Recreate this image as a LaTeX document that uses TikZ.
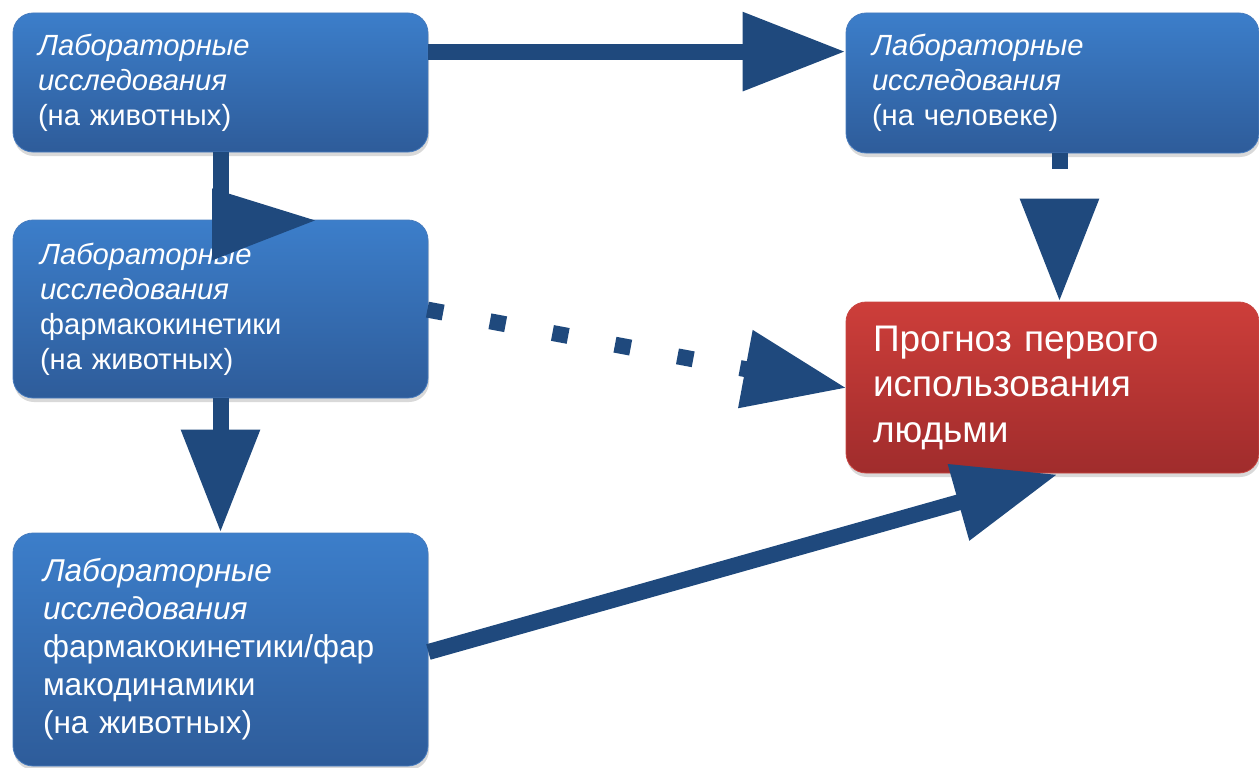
\documentclass[tikz,border=0pt]{standalone}
\usepackage{fontspec}
\setmainfont{Liberation Sans}
\usetikzlibrary{arrows.meta,shadows,calc}
\definecolor{arrowblue}{RGB}{31,73,125}
\definecolor{boxtop}{RGB}{60,126,202}
\definecolor{boxbot}{RGB}{46,92,154}
\definecolor{boxedge}{RGB}{72,124,190}
\definecolor{redtop}{RGB}{205,62,58}
\definecolor{redbot}{RGB}{160,44,44}
\definecolor{rededge}{RGB}{200,70,66}
\begin{document}
\begin{tikzpicture}[x=1pt,y=-1pt,
  box/.style={rectangle, rounded corners=20pt, text=white, align=left,
    inner ysep=0pt, top color=boxtop, bottom color=boxbot, draw=boxedge,
    line width=0.8pt,
    drop shadow={shadow xshift=1pt, shadow yshift=-4pt, opacity=0.3}},
  redbox/.style={box, top color=redtop, bottom color=redbot, draw=rededge},
  smallfont/.style={font=\fontsize{29.2pt}{35pt}\selectfont},
  midfont/.style={font=\fontsize{31.6pt}{38pt}\selectfont},
  bigfont/.style={font=\fontsize{37pt}{45.5pt}\selectfont},
  conn/.style={draw=arrowblue, line width=16pt,
    -{Triangle[length=103pt,width=75pt]}, arrowblue},
  dotconn/.style={conn, dash pattern=on 16pt off 47.6pt},
  headfill/.style={fill=arrowblue, draw=none}
]
\useasboundingbox (0,0) rectangle (1259,768);

% boxes
\node[box, smallfont, minimum width=415pt, minimum height=139pt,
  text width=365pt, inner xsep=25pt] (A) at (220.5,82.5)
  {\textit{Лабораторные}\\\textit{исследования}\\(на животных)};
\node[box, smallfont, minimum width=413pt, minimum height=140pt,
  text width=361pt, inner xsep=26pt] (B) at (1052.5,83)
  {\textit{Лабораторные}\\\textit{исследования}\\(на человеке)};
\node[box, smallfont, minimum width=415pt, minimum height=178pt,
  text width=361pt, inner xsep=27pt] (C) at (220.5,309)
  {\textit{Лабораторные}\\\textit{исследования}\\фармакокинетики\\(на животных)};
\node[box, midfont, minimum width=415pt, minimum height=233pt,
  text width=355pt, inner xsep=30pt] (D) at (220.5,649.5)
  {\textit{Лабораторные}\\\textit{исследования}\\фармакокинетики/фар\\макодинамики\\(на животных)};
\node[redbox, bigfont, minimum width=413pt, minimum height=171pt,
  text width=359pt, inner xsep=27pt] (E) at (1052.5,387.5)
  {Прогноз первого\\использования\\людьми};

% connector end points
\coordinate (a1) at ($(A.north east)+(0,39)$);
\coordinate (b1) at ($(B.north west)+(0,39)$);
\coordinate (c1) at ($(C.north east)+(-1,90)$);
\coordinate (e1) at ($(E.west)+(1,0.5)$);
\coordinate (b2) at ($(B.south)+(7,0)$);
\coordinate (e2) at ($(E.north)+(7,0)$);
\coordinate (d1) at ($(D.east)+(0,2.5)$);
\coordinate (e3) at ($(E.south west)+(212,1)$);
\coordinate (ac) at ($(A.south)+(0,88)$);

% connectors
\draw[conn] (a1) -- (b1);
\draw[conn] (C.south) -- (D.north);
\draw[conn] (d1) -- (e3);
\draw[dotconn] (c1) -- (e1);
\draw[dotconn] (b2) -- (e2);
% A -> C: straight stem with a sideways head
\draw[draw=arrowblue, line width=16pt] (A.south) -- (ac);
\fill[headfill] ($(A.south)+(-8.5,36)$) -- ($(A.south)+(94.5,68)$)
  -- ($(A.south)+(-8.5,108)$) -- cycle;
\end{tikzpicture}
\end{document}
